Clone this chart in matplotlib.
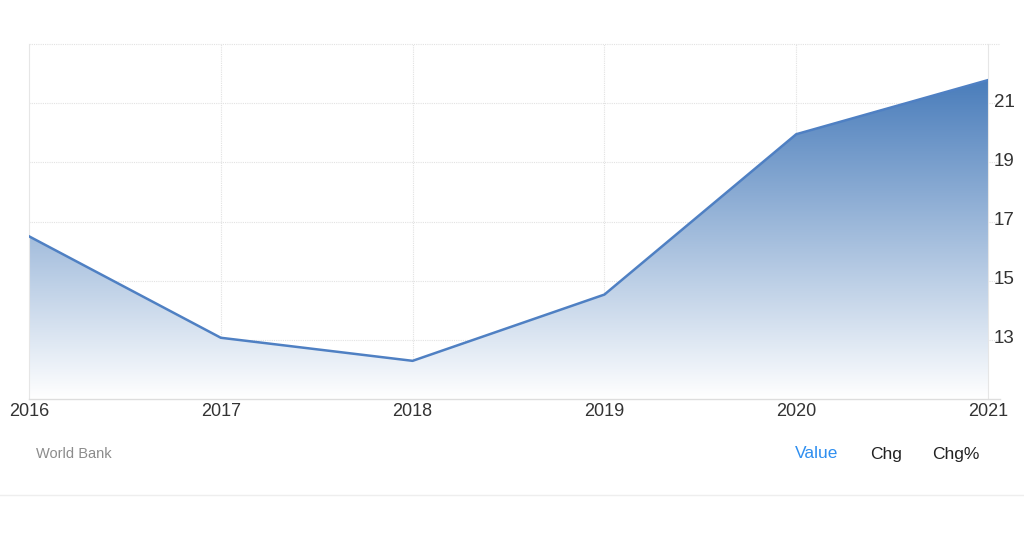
import numpy as np
import matplotlib.pyplot as plt
import matplotlib.transforms as mtransforms
from matplotlib.patches import Polygon
from matplotlib.colors import LinearSegmentedColormap

years = [2016, 2017, 2018, 2019, 2020, 2021]
values = [16.5, 13.07, 12.29, 14.53, 19.95, 21.78]
yticks = [13, 15, 17, 19, 21]

plt.rcParams['font.family'] = ['Liberation Sans', 'DejaVu Sans']

fig = plt.figure(figsize=(10.24, 5.44), dpi=100)
ax = fig.add_axes([29/1024, 1 - 399/544, 959/1024, 355/544])

ymin, ymax = 11, 23
ax.set_xlim(years[0], years[-1])
ax.set_ylim(ymin, ymax)

# gradient fill under the line
cmap = LinearSegmentedColormap.from_list('fade', ['#ffffff', '#4a7dbb'])
top = max(values)
grad = np.linspace(0, 1, 256).reshape(-1, 1)
img = ax.imshow(grad, cmap=cmap, aspect='auto', origin='lower',
                extent=[years[0], years[-1], ymin, top], zorder=1)
verts = [(years[0], ymin)] + list(zip(years, values)) + [(years[-1], ymin)]
clip = Polygon(verts, closed=True, transform=ax.transData, facecolor='none', edgecolor='none')
ax.add_patch(clip)
img.set_clip_path(clip)

ax.plot(years, values, color='#4f80c3', lw=1.8, zorder=3)

# grid
for y in yticks + [23]:
    ax.plot([years[0], years[-1] + 0.0625], [y, y], color='#e2e2e2', lw=0.8,
            ls=(0, (1, 1)), clip_on=False, zorder=0)
for x in years[1:-1]:
    ax.axvline(x, color='#e2e2e2', lw=0.8, ls=(0, (1, 1)), zorder=0)

ax.spines['top'].set_visible(False)
for s in ['left', 'right']:
    ax.spines[s].set_color('#e6e6e6')
ax.spines['bottom'].set_visible(False)
ax.plot([years[0], years[-1] + 0.0625], [ymin, ymin], color='#dddddd', lw=1,
        clip_on=False, zorder=4)

ax.set_xticks(years)
ax.set_xticklabels([str(y) for y in years])
ax.yaxis.tick_right()
ax.set_yticks(yticks)
ax.tick_params(axis='both', length=0, labelsize=13, colors='#333333')
ax.tick_params(axis='y', pad=4, labelsize=13.5)
ax.tick_params(axis='x', pad=3)
shift = mtransforms.ScaledTranslation(0, 3/100, fig.dpi_scale_trans)
for lbl in ax.get_yticklabels():
    lbl.set_transform(lbl.get_transform() + shift)

fig.text(36/1024, 1 - 454/544, 'World Bank', fontsize=10.5, color='#8c8c8c', va='center')
fig.text(795/1024, 1 - 454/544, 'Value', fontsize=12.5, color='#2f8ff0', va='center')
fig.text(870/1024, 1 - 454/544, 'Chg', fontsize=12.5, color='#222222', va='center')
fig.text(932/1024, 1 - 454/544, 'Chg%', fontsize=12.5, color='#222222', va='center')
fig.add_artist(plt.Line2D([0, 1], [1 - 495/544, 1 - 495/544], color='#eeeeee', lw=1))

fig.savefig('out.png', dpi=100)
